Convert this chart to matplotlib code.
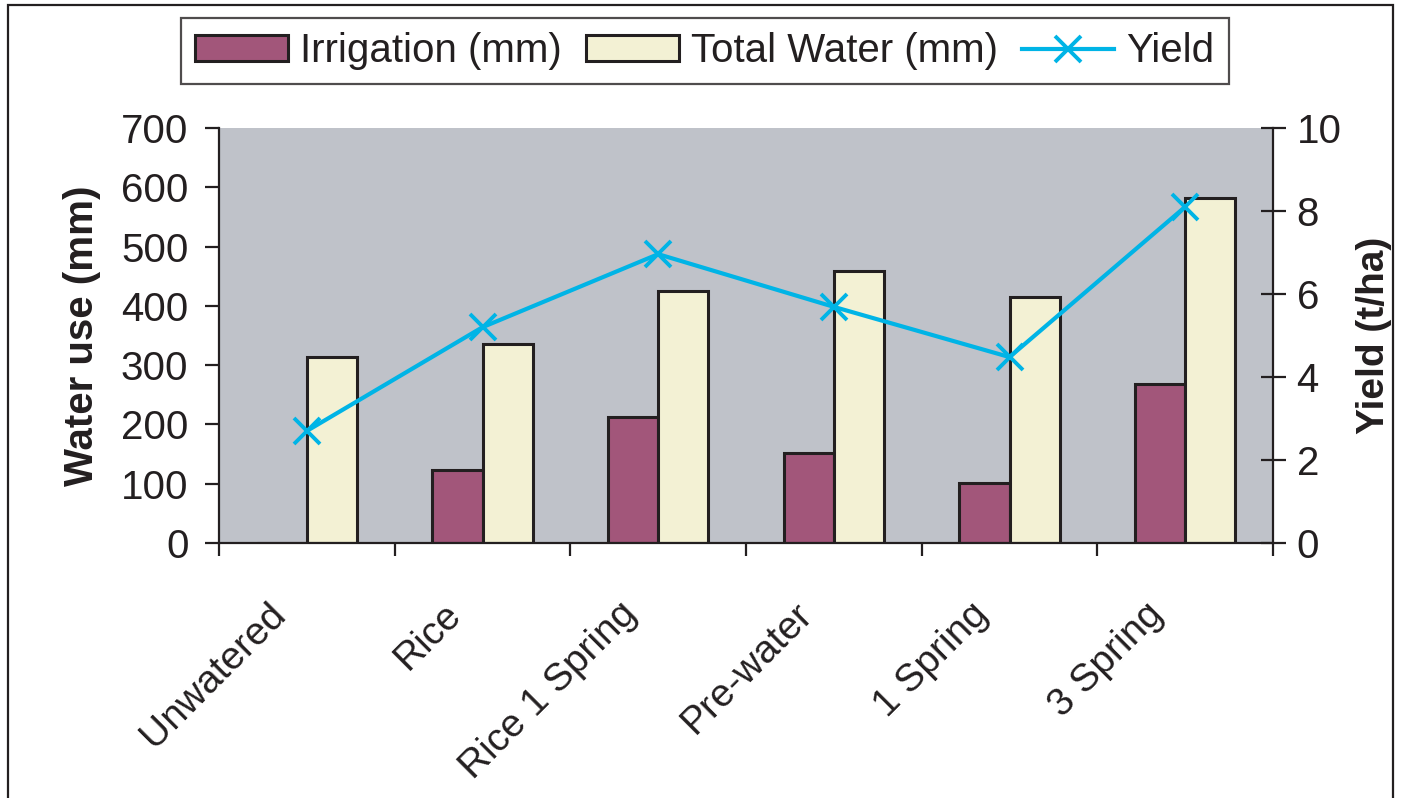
import numpy as np
import matplotlib.pyplot as plt
import matplotlib.transforms as mtransforms
from matplotlib.patches import Rectangle
from matplotlib.lines import Line2D

categories = ["Unwatered", "Rice", "Rice 1 Spring", "Pre-water", "1 Spring", "3 Spring"]
irrigation_mm = [0, 123, 212, 152, 101, 268]
total_water_mm = [314, 336, 425, 459, 415, 582]
yield_tha = [2.70, 5.20, 6.96, 5.69, 4.48, 8.10]

plt.rcParams["font.family"] = ["Liberation Sans", "DejaVu Sans"]

ink = "#231F20"
irr_color = "#A2567A"
tot_color = "#F3F1D4"
line_color = "#00B4E6"
bg_color = "#BFC2C9"

fig = plt.figure(figsize=(14.01, 7.98), dpi=100)
ax = fig.add_axes([219 / 1401, 1 - 543 / 798, (1273 - 219) / 1401, (543 - 128) / 798])
ax.set_facecolor(bg_color)

x = np.arange(len(categories))
w = 0.285

ax.bar(x - w / 2, irrigation_mm, w, color=irr_color, edgecolor=ink, linewidth=2.2,
       label="Irrigation (mm)", zorder=2)
ax.bar(x + w / 2, total_water_mm, w, color=tot_color, edgecolor=ink, linewidth=2.2,
       label="Total Water (mm)", zorder=2)

ax.set_xlim(-0.5, len(categories) - 0.5)
ax.set_ylim(0, 700)
ax.set_yticks(np.arange(0, 701, 100))

ax2 = ax.twinx()
ax2.plot(x, yield_tha, color=line_color, linewidth=3, marker="x",
         markersize=19, markeredgewidth=2.8, zorder=3)
ax2.set_ylim(0, 10)
ax2.set_yticks(np.arange(0, 11, 2))

for a in (ax, ax2):
    for s in a.spines.values():
        s.set_color(ink)
        s.set_linewidth(1.6)
    a.spines["top"].set_visible(False)

ax.spines["right"].set_visible(False)
ax2.spines["left"].set_visible(False)
ax2.spines["bottom"].set_visible(False)

ax.tick_params(axis="y", direction="out", length=10, width=1.6, color=ink,
               labelsize=29, pad=12, labelcolor=ink)
ax2.tick_params(axis="y", direction="inout", length=18, width=1.6, color=ink,
                labelsize=29, pad=8, labelcolor=ink)

ax.set_xticks(x)
ax.set_xticklabels(categories, rotation=45, ha="right", rotation_mode="anchor",
                   fontsize=28, color=ink)
ax.tick_params(axis="x", which="major", length=0, pad=38)
ax.set_xticks(np.arange(-0.5, len(categories) + 0.5, 1), minor=True)
ax.tick_params(axis="x", which="minor", direction="out", length=9, width=1.6, color=ink)
offset = mtransforms.ScaledTranslation(-40 / 100, 0, fig.dpi_scale_trans)
for lbl in ax.get_xticklabels():
    lbl.set_transform(lbl.get_transform() + offset)

label_font = ["Liberation Sans Narrow", "Liberation Sans", "DejaVu Sans"]
ax.set_ylabel("Water use (mm)", fontsize=29, fontweight="bold", family=label_font,
              color=ink, labelpad=14)
ax2.set_ylabel("Yield (t/ha)", fontsize=28, fontweight="bold", family=label_font,
               color=ink, labelpad=10)

handles = [
    Rectangle((0, 0), 1, 1, facecolor=irr_color, edgecolor=ink, linewidth=2.2),
    Rectangle((0, 0), 1, 1, facecolor=tot_color, edgecolor=ink, linewidth=2.2),
    Line2D([], [], color=line_color, linewidth=3, marker="x", markersize=19,
           markeredgewidth=2.8),
]
leg = fig.legend(handles, ["Irrigation (mm)", "Total Water (mm)", "Yield"],
                 loc="center", bbox_to_anchor=(705 / 1401, 1 - 51 / 798), ncol=3,
                 fontsize=29, frameon=True, fancybox=False, edgecolor=ink,
                 handlelength=2.3, handleheight=0.6, columnspacing=0.6,
                 handletextpad=0.3, borderpad=0.35)
leg.get_frame().set_linewidth(1.6)
for t in leg.get_texts():
    t.set_color(ink)

fig.patches.append(Rectangle((8 / 1401, -0.01), (1393 - 8) / 1401, 1.01 - 5 / 798,
                             transform=fig.transFigure, fill=False, edgecolor=ink,
                             linewidth=1.6))

fig.savefig("out.png", dpi=100)
